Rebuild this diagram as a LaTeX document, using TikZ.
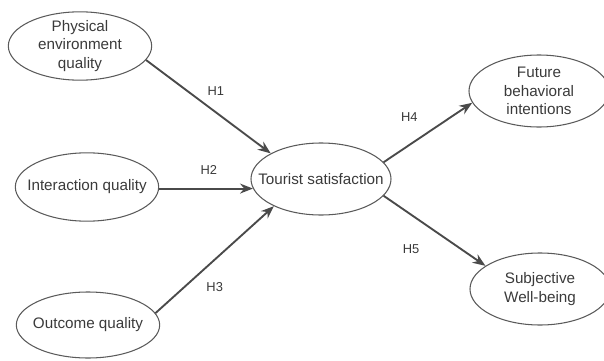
\documentclass[tikz,border=0pt]{standalone}
\usepackage{fontspec}
\setmainfont{Liberation Sans}
\usetikzlibrary{shapes.geometric, arrows.meta, positioning}
\definecolor{linegray}{HTML}{5A5A5A}
\definecolor{arrowgray}{HTML}{4A4A4A}
\definecolor{textgray}{HTML}{3A3A3A}
\tikzset{%
  construct/.style={draw=linegray, ellipse, line width=0.9pt, minimum width=4.3cm, minimum height=2.05cm, inner sep=0mm},
  ctext/.style={align=center, text=textgray, font=\fontsize{13}{16}\selectfont, inner sep=0mm},
  hyp/.style={-{Stealth[length=11pt,width=8.5pt]}, line width=1.6pt, draw=arrowgray},
  hlabel/.style={text=textgray, font=\fontsize{11}{13}\selectfont}
}

\begin{document}
\begin{tikzpicture}[x=0.03cm, y=-0.03cm]
  \useasboundingbox (0,0) rectangle (604,361);

  \node[construct, label={[ctext]center:Physical\\environment\\quality}] (phys) at (80,46) {};
  \node[construct, label={[ctext]center:Interaction quality}] (inter) at (87,187) {};
  \node[construct, minimum height=1.98cm, label={[ctext]center:Outcome quality}] (outc) at (88,325) {};

  \node[construct, minimum width=4.2cm, minimum height=2.16cm, label={[ctext]center:Tourist satisfaction}] (ts) at (321,179) {};

  \node[construct, minimum width=4.2cm, minimum height=2.16cm, label={[ctext]center:Future\\behavioral\\intentions}] (fut) at (539,91) {};
  \node[construct, minimum width=4.2cm, minimum height=2.16cm, label={[ctext]center:Subjective\\Well-being}] (subj) at (540,289) {};

  \draw[hyp] (phys.-12) to node[pos=0.56, above=10pt, hlabel] {H1} (ts.153);
  \draw[hyp] (ts.188 -| inter.east) to node[pos=0.53, above=8pt, hlabel] {H2} (ts.188);
  \draw[hyp] (outc.10) to node[pos=0.5, below=15pt, hlabel] {H3} (ts.210);

  \draw[hyp] (ts.15) to node[pos=0.29, above=16pt, hlabel] {H4} (fut.190);
  \draw[hyp] (ts.-15) to node[pos=0.27, below=21pt, hlabel] {H5} (subj.157);
\end{tikzpicture}
\end{document}
